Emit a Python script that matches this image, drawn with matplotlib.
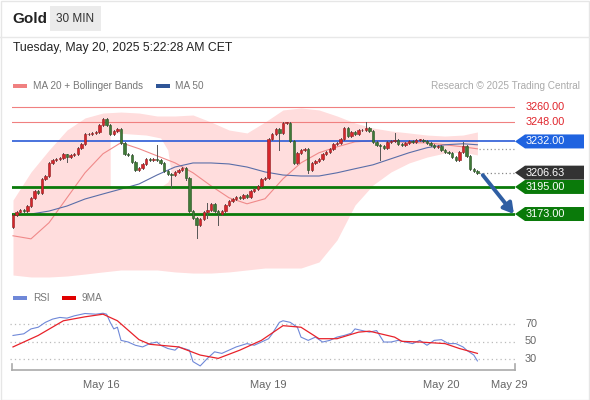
import matplotlib
matplotlib.use("Agg")
import matplotlib.pyplot as plt
from matplotlib.patches import Polygon, Rectangle
from matplotlib.transforms import blended_transform_factory

plt.rcParams['font.family'] = ['Liberation Sans', 'DejaVu Sans']

# ---------------- data ----------------
first_open = 3162.4
closes = [3172.2, 3174.6, 3176.3, 3175.4, 3179.5, 3186.0, 3191.7, 3190.1, 3201.5, 3203.9,
          3214.5, 3216.9, 3217.7, 3218.5, 3221.8, 3219.3, 3221.0, 3221.8, 3226.7, 3229.9,
          3238.0, 3238.0, 3238.9, 3239.7, 3245.4, 3250.2, 3245.4, 3238.0, 3240.5, 3242.1,
          3230.7, 3221.8, 3221.0, 3215.3, 3208.8, 3210.4, 3213.7, 3217.7, 3216.9, 3217.7,
          3216.9, 3214.5, 3208.0, 3205.5, 3204.7, 3207.2, 3208.8, 3210.4, 3202.3, 3175.4,
          3169.8, 3164.1, 3168.9, 3174.6, 3176.3, 3181.1, 3175.4, 3173.0, 3175.4, 3180.3,
          3183.6, 3185.2, 3186.8, 3186.0, 3188.5, 3186.8, 3191.7, 3193.3, 3195.8, 3201.5,
          3202.3, 3234.0, 3238.0, 3242.1, 3238.9, 3247.0, 3247.0, 3232.4, 3214.5, 3222.6,
          3225.0, 3225.9, 3208.8, 3214.5, 3216.1, 3217.7, 3221.8, 3223.4, 3225.9, 3229.9,
          3230.7, 3234.0, 3242.9, 3236.4, 3239.7, 3238.0, 3241.3, 3241.3, 3242.9, 3240.5,
          3231.5, 3229.1, 3228.3, 3226.7, 3231.5, 3232.4, 3233.2, 3229.9, 3229.1, 3230.7,
          3232.4, 3231.5, 3233.2, 3233.2, 3232.4, 3230.7, 3229.1, 3227.5, 3228.3, 3225.0,
          3223.4, 3222.6, 3219.3, 3216.9, 3223.4, 3228.3, 3220.2, 3209.6, 3208.0, 3206.63]
# notable wick extremes (bar index -> price)
wick_highs = {15: 3221.8, 40: 3229.1, 54: 3181.9, 75: 3247.8, 98: 3247.8, 106: 3238.9, 125: 3231.5}
wick_lows = {15: 3215.3, 44: 3195.0, 48: 3200.7, 51: 3153.5, 54: 3169.8, 57: 3164.1,
             74: 3225.0, 82: 3206.3, 102: 3216.9}

# indicator samples (bar index -> value)
ind_idx = [0, 5, 10, 15, 20, 25, 30, 35, 40, 45, 50, 55, 60, 65, 70, 75, 80, 85, 90, 95,
           100, 105, 110, 115, 120, 125, 129]
bb_upper = [3184.4, 3207.2, 3225.0, 3241.3, 3251.1, 3255.1, 3255.9, 3255.1, 3252.7, 3252.7,
            3253.5, 3247.8, 3241.3, 3238.9, 3247.8, 3257.6, 3259.2, 3257.6, 3252.7, 3247.0,
            3242.9, 3240.5, 3238.9, 3237.2, 3236.4, 3237.2, 3239.7]
bb_lower = [3123.4, 3121.8, 3121.8, 3122.6, 3124.2, 3125.9, 3127.5, 3127.5, 3127.5, 3125.9,
            3125.0, 3125.0, 3125.9, 3127.5, 3129.1, 3129.1, 3129.1, 3134.0, 3151.9, 3180.3,
            3196.6, 3207.2, 3214.5, 3219.3, 3222.6, 3223.4, 3221.0]
# clear (unshaded) pocket inside the band cloud
gap_idx = [27, 29, 33, 37, 41, 43, 44]
gap_top = [3237.2, 3238.9, 3238.0, 3237.2, 3234.8, 3225.0, 3204.7]
gap_bot = [3195.8, 3195.0, 3194.1, 3194.1, 3195.0, 3199.0, 3204.7]
ma20 = [3155.3, 3152.8, 3165.9, 3186.2, 3206.5, 3222.0, 3231.0, 3226.1, 3220.3, 3214.6,
        3206.5, 3195.9, 3186.2, 3181.3, 3185.4, 3201.6, 3214.6, 3222.8, 3227.6, 3231.7,
        3232.5, 3232.5, 3230.9, 3230.9, 3229.3, 3227.6, 3226.0]
ma50 = [3172.2, 3173.0, 3175.4, 3179.5, 3185.2, 3189.3, 3193.3, 3197.4, 3204.7, 3211.2,
        3214.5, 3214.5, 3213.7, 3211.2, 3207.2, 3204.7, 3203.9, 3203.9, 3206.5, 3209.8,
        3213.0, 3217.9, 3222.8, 3226.9, 3229.3, 3230.1, 3229.3]

# RSI samples (bar index -> value)
rsi_idx = [0, 3, 5, 7, 9, 11, 13, 15, 17, 20, 23, 25, 26, 27, 28, 29, 30, 32, 34, 36, 38, 40,
           41, 43, 45, 46, 49, 50, 52, 54, 56, 58, 60, 62, 65, 67, 69, 71, 72, 74, 75, 77, 79,
           80, 82, 84, 86, 88, 90, 92, 94, 95, 97, 99, 101, 103, 105, 107, 109, 111, 113, 115,
           117, 119, 121, 123, 125, 126, 128, 129]
rsi = [56.9, 58.8, 64.4, 66.3, 71.9, 75.6, 77.5, 76.7, 79.3, 82.0, 81.2, 82.3, 81.2, 71.9,
       64.4, 66.3, 51.3, 49.4, 45.7, 43.8, 47.6, 49.4, 45.7, 42.0, 40.1, 43.8, 40.1, 27.0,
       22.1, 30.7, 38.2, 36.4, 40.1, 43.8, 47.6, 45.7, 49.4, 53.2, 58.8, 71.9, 73.7, 71.9,
       66.3, 55.0, 51.3, 55.0, 49.4, 51.3, 55.0, 56.9, 59.5, 64.4, 62.5, 60.7, 62.5, 49.4,
       49.4, 51.3, 49.4, 47.6, 51.3, 45.7, 51.3, 52.1, 47.6, 47.6, 43.8, 40.1, 34.5, 27.8]
rsi_ma_idx = [0, 7, 14, 20, 25, 29, 35, 38, 46, 52, 57, 63, 69, 75, 80, 85, 90, 96, 99, 106,
              108, 113, 120, 124, 129]
rsi_ma = [43.8, 56.9, 73.7, 78.2, 81.2, 73.7, 52.1, 46.8, 43.8, 34.5, 30.7, 40.1, 51.3, 68.1,
          66.3, 53.2, 53.2, 60.7, 61.8, 55.0, 50.2, 49.4, 47.6, 42.0, 36.4]

resistances = [3260.00, 3248.00]
pivot = 3232.00
supports = [3195.00, 3173.00]
last_price = 3206.63
tick_pos = [24.5, 70.8, 118.9, 137.8]
tick_labels = ["May 16", "May 19", "May 20", "May 29"]

# ---------------- figure ----------------
W, H = 590, 400
fig = plt.figure(figsize=(W / 100, H / 100), dpi=100)
fig.patch.set_facecolor("white")

def fx(px):
    return px / W

def fy(py):
    return 1 - py / H

# outer border
fig.patches.append(Rectangle((0.001, 0.001), 0.998, 0.997, transform=fig.transFigure,
                             fill=False, edgecolor="#e6e6e6", lw=1))
# header
fig.text(fx(12), fy(19), "Gold", fontsize=11, fontweight="bold", color="#222222", va="center")
fig.patches.append(Rectangle((fx(50), fy(31)), fx(51), 25 / H, transform=fig.transFigure,
                             facecolor="#ebebeb", edgecolor="none"))
fig.text(fx(75.5), fy(19), "30 MIN", fontsize=8.5, color="#333333", va="center", ha="center")
fig.lines.append(plt.Line2D([0, 1], [fy(37), fy(37)], transform=fig.transFigure,
                            color="#e8e8e8", lw=1))
fig.text(fx(13), fy(48), "Tuesday, May 20, 2025 5:22:28 AM CET", fontsize=8.8,
         color="#222222", va="center")

# legends
fig.patches.append(Rectangle((fx(13), fy(88)), fx(14), 4 / H, transform=fig.transFigure,
                             facecolor="#f08080", edgecolor="none"))
fig.text(fx(33), fy(86), "MA 20 + Bollinger Bands", fontsize=7.2, color="#777777", va="center")
fig.patches.append(Rectangle((fx(156), fy(88)), fx(14), 4 / H, transform=fig.transFigure,
                             facecolor="#2f5597", edgecolor="none"))
fig.text(fx(175), fy(86), "MA 50", fontsize=7.2, color="#777777", va="center")
fig.text(fx(580), fy(86), "Research \u00a9 2025 Trading Central", fontsize=7.2,
         color="#aaaaaa", va="center", ha="right")

# ---------------- main axes ----------------
px_per_bar = 3.6
x0_px = 13.0
ax_left, ax_right = 12, 515
ax_top, ax_bot = 90, 280
ax = fig.add_axes([fx(ax_left), fy(ax_bot), (ax_right - ax_left) / W, (ax_bot - ax_top) / H])
ax.set_xlim((ax_left - x0_px) / px_per_bar, (ax_right - x0_px) / px_per_bar)
ppu = 1.23
ax.set_ylim(3260 - (ax_bot - 107) / ppu, 3260 + (107 - ax_top) / ppu)
ax.axis("off")

# bollinger band cloud
ax.fill_between(ind_idx, bb_lower, bb_upper, color="#ffdddd", lw=0, zorder=1)
ax.fill_between(gap_idx, gap_bot, gap_top, color="white", lw=0, zorder=1.5)
ax.plot(ind_idx, ma20, color="#f08a8a", lw=0.8, zorder=2)
ax.plot(ind_idx, ma50, color="#5a6ea8", lw=0.8, zorder=2)

# level lines
for r in resistances:
    ax.axhline(r, color="#f08080", lw=0.8, zorder=3)
ax.axhline(pivot, color="#2a5bd7", lw=1.2, zorder=3)
for s in supports:
    ax.axhline(s, color="#0a7a0a", lw=2, zorder=3)

# candles
opens = [first_open] + closes[:-1]
bw = 0.72
for i, (o, c) in enumerate(zip(opens, closes)):
    up = c >= o
    face = "#d7262b" if up else "#3f7a37"
    edge = "#8e1a1d" if up else "#24501f"
    lo_b, hi_b = min(o, c), max(o, c)
    hi = wick_highs.get(i, hi_b + 0.8)
    lo = wick_lows.get(i, lo_b - 0.8)
    ax.plot([i, i], [lo, hi], color="#555555", lw=0.7, zorder=4)
    h = max(hi_b - lo_b, 0.4)
    ax.add_patch(Rectangle((i - bw / 2, lo_b), bw, h, facecolor=face, edgecolor=edge,
                           lw=0.4, zorder=5))

n = len(closes)
xr = ax.get_xlim()[1]
ax.plot([n - 1 + 0.5, xr], [last_price, last_price], color="#888888", lw=0.9,
        ls=(0, (1, 2)), zorder=3)
ax.plot([n - 1 + 0.5, xr], [ma20[-1], ma20[-1]], color="#999999", lw=0.9,
        ls=(0, (1, 2)), zorder=3)

# forecast arrow
ax.annotate("", xy=(xr - 0.3, supports[1]), xytext=(n - 1 + 1.5, last_price - 2),
            arrowprops=dict(arrowstyle="-|>,head_length=0.6,head_width=0.35", color="#2f5ea3",
                            lw=2.8, shrinkA=0, shrinkB=0), zorder=6)

# tags
bt = blended_transform_factory(ax.transAxes, ax.transData)
wpx = ax_right - ax_left
def tag(price, color, text_color="white"):
    hh = 7 / ppu
    p = 10 / wpx
    r = 69 / wpx
    poly = Polygon([(1.0, price), (1 + p, price + hh), (1 + r, price + hh),
                    (1 + r, price - hh), (1 + p, price - hh)], closed=True,
                   transform=bt, facecolor=color, edgecolor="none", clip_on=False, zorder=7)
    ax.add_patch(poly)
    ax.text(1 + 11 / wpx, price, f"{price:.2f}", transform=bt, color=text_color,
            fontsize=7.8, va="center", ha="left", clip_on=False, zorder=8)

for r in resistances:
    ax.text(1 + 11 / wpx, r, f"{r:.2f}", transform=bt, color="#e0242b", fontsize=7.8,
            va="center", ha="left", clip_on=False)
tag(pivot, "#1f63e0")
tag(last_price, "#333333")
for s in supports:
    tag(s, "#0a7a0a")

# ---------------- RSI axes ----------------
r_top, r_bot = 305, 370
rax = fig.add_axes([fx(ax_left), fy(r_bot), (ax_right - ax_left) / W, (r_bot - r_top) / H])
rax.set_xlim(ax.get_xlim())
rpu = 0.875
rax.set_ylim(30 - (r_bot - 359) / rpu, 70 + (324 - r_top) / rpu)
rbt = blended_transform_factory(rax.transAxes, rax.transData)
for lvl in (70, 50, 30):
    rax.plot([rax.get_xlim()[0] - 0.5, xr], [lvl, lvl], color="#bbbbbb", lw=0.9,
             ls=(0, (1, 2.5)), clip_on=False)
    rax.text(1 + 10 / wpx, lvl, str(lvl), transform=rbt,
             fontsize=7.8, color="#666666", va="center", ha="left")
rax.plot(rsi_idx, rsi, color="#6f88d8", lw=0.8, zorder=3)
rax.plot(rsi_ma_idx, rsi_ma, color="#e8222a", lw=0.9, zorder=4)
for s in ("top", "right", "left"):
    rax.spines[s].set_visible(False)
rax.spines["bottom"].set_color("#aaaaaa")
rax.spines["bottom"].set_linewidth(1.2)
rax.set_yticks([])
rax.set_xticks(tick_pos)
rax.set_xticklabels(tick_labels, fontsize=8, color="#666666")
rax.tick_params(axis="x", length=0, pad=7)
for xe in rax.get_xlim():
    rax.plot([xe, xe], [rax.get_ylim()[0], rax.get_ylim()[0] + 6 / rpu], color="#aaaaaa",
             lw=1.2, clip_on=False)

# RSI legend
fig.patches.append(Rectangle((fx(13), fy(300)), fx(14), 4 / H, transform=fig.transFigure,
                             facecolor="#6f88d8", edgecolor="none"))
fig.text(fx(33), fy(298), "RSI", fontsize=7.2, color="#777777", va="center")
fig.patches.append(Rectangle((fx(62), fy(300)), fx(14), 4 / H, transform=fig.transFigure,
                             facecolor="#e00000", edgecolor="none"))
fig.text(fx(82), fy(298), "9MA", fontsize=7.2, color="#777777", va="center")

fig.savefig("out.png", dpi=100, facecolor="white")
